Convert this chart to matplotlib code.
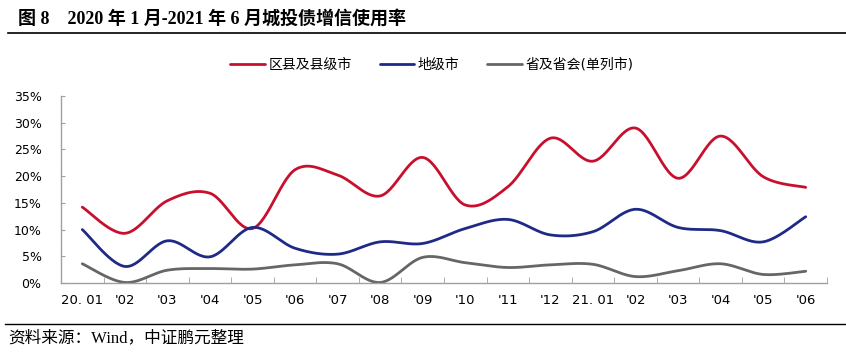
import numpy as np
import matplotlib.pyplot as plt
from matplotlib.lines import Line2D

plt.rcParams['font.family'] = ['DejaVu Sans', 'Noto Sans CJK SC']

# data (percent)
months = ['20. 01', "'02", "'03", "'04", "'05", "'06", "'07", "'08", "'09", "'10",
          "'11", "'12", '21. 01', "'02", "'03", "'04", "'05", "'06"]
county = [14.2, 9.3, 15.4, 16.8, 10.2, 21.2, 20.2, 16.3, 23.5, 14.6,
          18.0, 27.1, 22.8, 29.0, 19.6, 27.5, 19.9, 17.9]
city = [10.0, 3.1, 7.9, 4.9, 10.4, 6.5, 5.4, 7.7, 7.4, 10.2,
        11.9, 9.0, 9.6, 13.8, 10.4, 9.8, 7.7, 12.4]
province = [3.6, 0.1, 2.4, 2.7, 2.6, 3.4, 3.6, 0.1, 4.8, 3.8,
            2.9, 3.4, 3.5, 1.2, 2.3, 3.6, 1.6, 2.2]
names = ['区县及县级市', '地级市', '省及省会(单列市)']
colors = ['#C8102E', '#1F2A86', '#666666']


def smooth(y, n=30):
    # excel-like smoothed line (catmull-rom as bezier)
    y = np.asarray(y, float)
    x = np.arange(len(y), dtype=float)
    px = np.concatenate([[x[0]], x, [x[-1]]])
    py = np.concatenate([[y[0]], y, [y[-1]]])
    xs, ys = [], []
    t = np.linspace(0, 1, n)
    for i in range(len(y) - 1):
        p0 = np.array([px[i + 1], py[i + 1]])
        p3 = np.array([px[i + 2], py[i + 2]])
        p1 = p0 + (p3 - np.array([px[i], py[i]])) / 6
        p2 = p3 - (np.array([px[i + 3], py[i + 3]]) - p0) / 6
        b = ((1 - t) ** 3)[:, None] * p0 + (3 * (1 - t) ** 2 * t)[:, None] * p1 \
            + (3 * (1 - t) * t ** 2)[:, None] * p2 + (t ** 3)[:, None] * p3
        xs.append(b[:, 0]); ys.append(b[:, 1])
    return np.concatenate(xs), np.concatenate(ys)


fig = plt.figure(figsize=(8.46, 3.55), dpi=100)
ax = fig.add_axes([61/846, (355-283)/355, (827-61)/846, (283-96)/355])

for vals, c, nm in zip([county, city, province], colors, names):
    sx, sy = smooth(np.array(vals) / 100)
    ax.plot(sx, sy, color=c, lw=2.0, label=nm, solid_capstyle='round')

ax.set_xlim(-0.5, len(months) - 0.5)
ax.set_ylim(0, 0.35)
ax.set_yticks(np.arange(0, 0.351, 0.05))
ax.set_yticklabels(['%d%%' % v for v in range(0, 36, 5)], fontsize=9)
ax.set_xticks(range(len(months)))
ax.set_xticklabels(months, fontsize=9.5)
ax.set_xticks(np.arange(-0.5, len(months), 1), minor=True)
ax.tick_params(axis='x', which='major', length=0, pad=8)
ax.tick_params(axis='x', which='minor', length=4, direction='in', color='#a0a0a0')
ax.tick_params(axis='y', length=3, direction='in', color='#a0a0a0', pad=14)
for s in ['top', 'right']:
    ax.spines[s].set_visible(False)
for s in ['left', 'bottom']:
    ax.spines[s].set_color('#a0a0a0')
    ax.spines[s].set_linewidth(1.0)

fig.legend(loc='center', bbox_to_anchor=(432/846, 1 - 65/355), ncol=3, frameon=False,
           fontsize=10, handlelength=2.5, handletextpad=0.25, columnspacing=2.0)

fig.text(18/846, 1 - 19/355, '图 8    2020 年 1 月-2021 年 6 月城投债增信使用率',
         fontsize=13, fontweight='bold', va='center',
         family=['Liberation Serif', 'Noto Sans CJK SC'])
fig.add_artist(Line2D([8/846, 1], [1 - 33/355] * 2, color='black', lw=1.2))
fig.add_artist(Line2D([5/846, 1], [1 - 324/355] * 2, color='black', lw=1.0))
fig.text(8/846, 1 - 338/355, '资料来源：Wind，中证鹏元整理', fontsize=12, va='center',
         family=['Liberation Serif', 'Noto Sans CJK SC'])

fig.savefig('out.png', dpi=100)
